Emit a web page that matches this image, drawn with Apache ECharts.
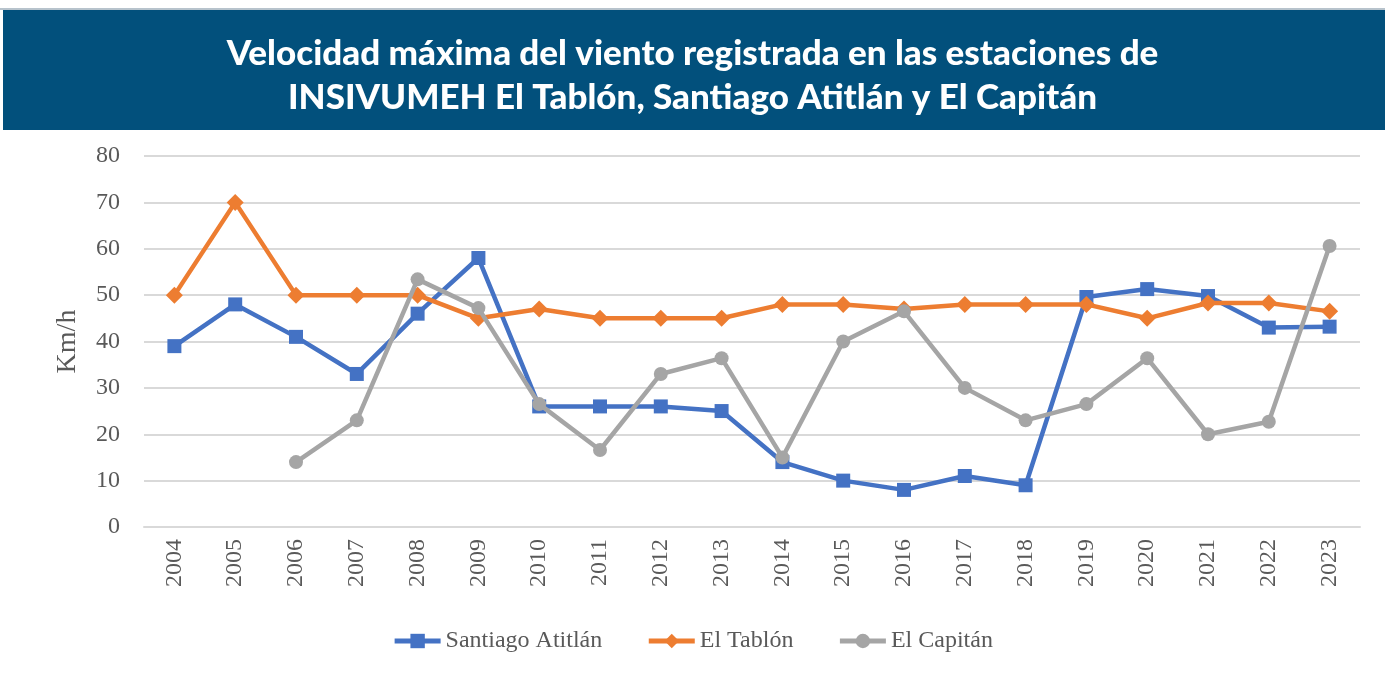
<!DOCTYPE html>
<html>
<head>
<meta charset="utf-8">
<script src="https://cdn.jsdelivr.net/npm/echarts@6/dist/echarts.min.js"></script>
<style>
  html, body { margin: 0; padding: 0; background: #fff; }
  #chart { width: 1385px; height: 680px; }
</style>
</head>
<body>
<div id="chart"></div>
<script>
const years = ['2004','2005','2006','2007','2008','2009','2010','2011','2012','2013',
               '2014','2015','2016','2017','2018','2019','2020','2021','2022','2023'];

const santiagoAtitlan = [39, 48, 41, 33, 46, 58, 26, 26, 26, 25, 14, 10, 8, 11, 9, 49.6, 51.3, 49.8, 43, 43.2];
const elTablon = [50, 70, 50, 50, 50, 45, 47, 45, 45, 45, 48, 48, 47, 48, 48, 48, 45, 48.3, 48.3, 46.5];
const elCapitan = [null, null, 14, 23, 53.4, 47.2, 26.5, 16.6, 33, 36.4, 15, 40, 46.5, 30, 23, 26.5, 36.4, 20, 22.7, 60.6];

const yTicks = { min: 0, max: 80, interval: 10 };

const chart = echarts.init(document.getElementById('chart'));

const serif = '"Liberation Serif", "DejaVu Serif", serif';

chart.setOption({
  backgroundColor: '#fff',
  graphic: [
    {
      type: 'rect',
      left: 3, top: 10,
      shape: { width: 1382, height: 120 },
      style: { fill: '#02507C' }
    },
    {
      type: 'rect',
      left: 0, top: 8,
      shape: { width: 1385, height: 2 },
      style: { fill: '#b7c3cc' }
    }
  ],
  title: {
    text: 'Velocidad máxima del viento registrada en las estaciones de\nINSIVUMEH El Tablón, Santiago Atitlán y El Capitán',
    left: 'center',
    top: 27,
    textStyle: {
      color: '#fff',
      fontFamily: 'Lato, "Open Sans", sans-serif',
      fontWeight: 900,
      fontSize: 35,
      lineHeight: 44
    }
  },
  grid: { left: 144, right: 25, top: 156, bottom: 153 },
  legend: {
    bottom: 22,
    left: 'center',
    itemWidth: 46,
    itemHeight: 18,
    itemGap: 44,
    lineStyle: { width: 5 },
    textStyle: { fontFamily: serif, fontSize: 24, color: '#595959' },
    data: ['Santiago Atitlán', 'El Tablón', 'El Capitán']
  },
  xAxis: {
    type: 'category',
    data: years,
    boundaryGap: true,
    axisLine: { lineStyle: { color: '#d9d9d9', width: 2 } },
    axisTick: { show: false },
    axisLabel: {
      rotate: 90,
      fontFamily: serif,
      fontSize: 24,
      color: '#595959',
      margin: 12
    }
  },
  yAxis: {
    type: 'value',
    min: yTicks.min,
    max: yTicks.max,
    interval: yTicks.interval,
    name: 'Km/h',
    nameLocation: 'middle',
    nameGap: 62,
    nameRotate: 90,
    nameTextStyle: { fontFamily: serif, fontSize: 28, color: '#595959' },
    axisLine: { show: false },
    axisTick: { show: false },
    splitLine: { lineStyle: { color: '#d9d9d9', width: 2 } },
    axisLabel: { fontFamily: serif, fontSize: 24, color: '#595959', margin: 24 }
  },
  series: [
    {
      name: 'Santiago Atitlán',
      type: 'line',
      data: santiagoAtitlan,
      symbol: 'rect',
      symbolSize: 14,
      lineStyle: { width: 4.5, color: '#4472C4' },
      itemStyle: { color: '#4472C4' },
      z: 3
    },
    {
      name: 'El Tablón',
      type: 'line',
      data: elTablon,
      symbol: 'diamond',
      symbolSize: 17,
      lineStyle: { width: 4.5, color: '#ED7D31' },
      itemStyle: { color: '#ED7D31' },
      z: 4
    },
    {
      name: 'El Capitán',
      type: 'line',
      data: elCapitan,
      symbol: 'circle',
      symbolSize: 14,
      lineStyle: { width: 4.5, color: '#A5A5A5' },
      itemStyle: { color: '#A5A5A5' },
      z: 5
    }
  ]
});
</script>
</body>
</html>
